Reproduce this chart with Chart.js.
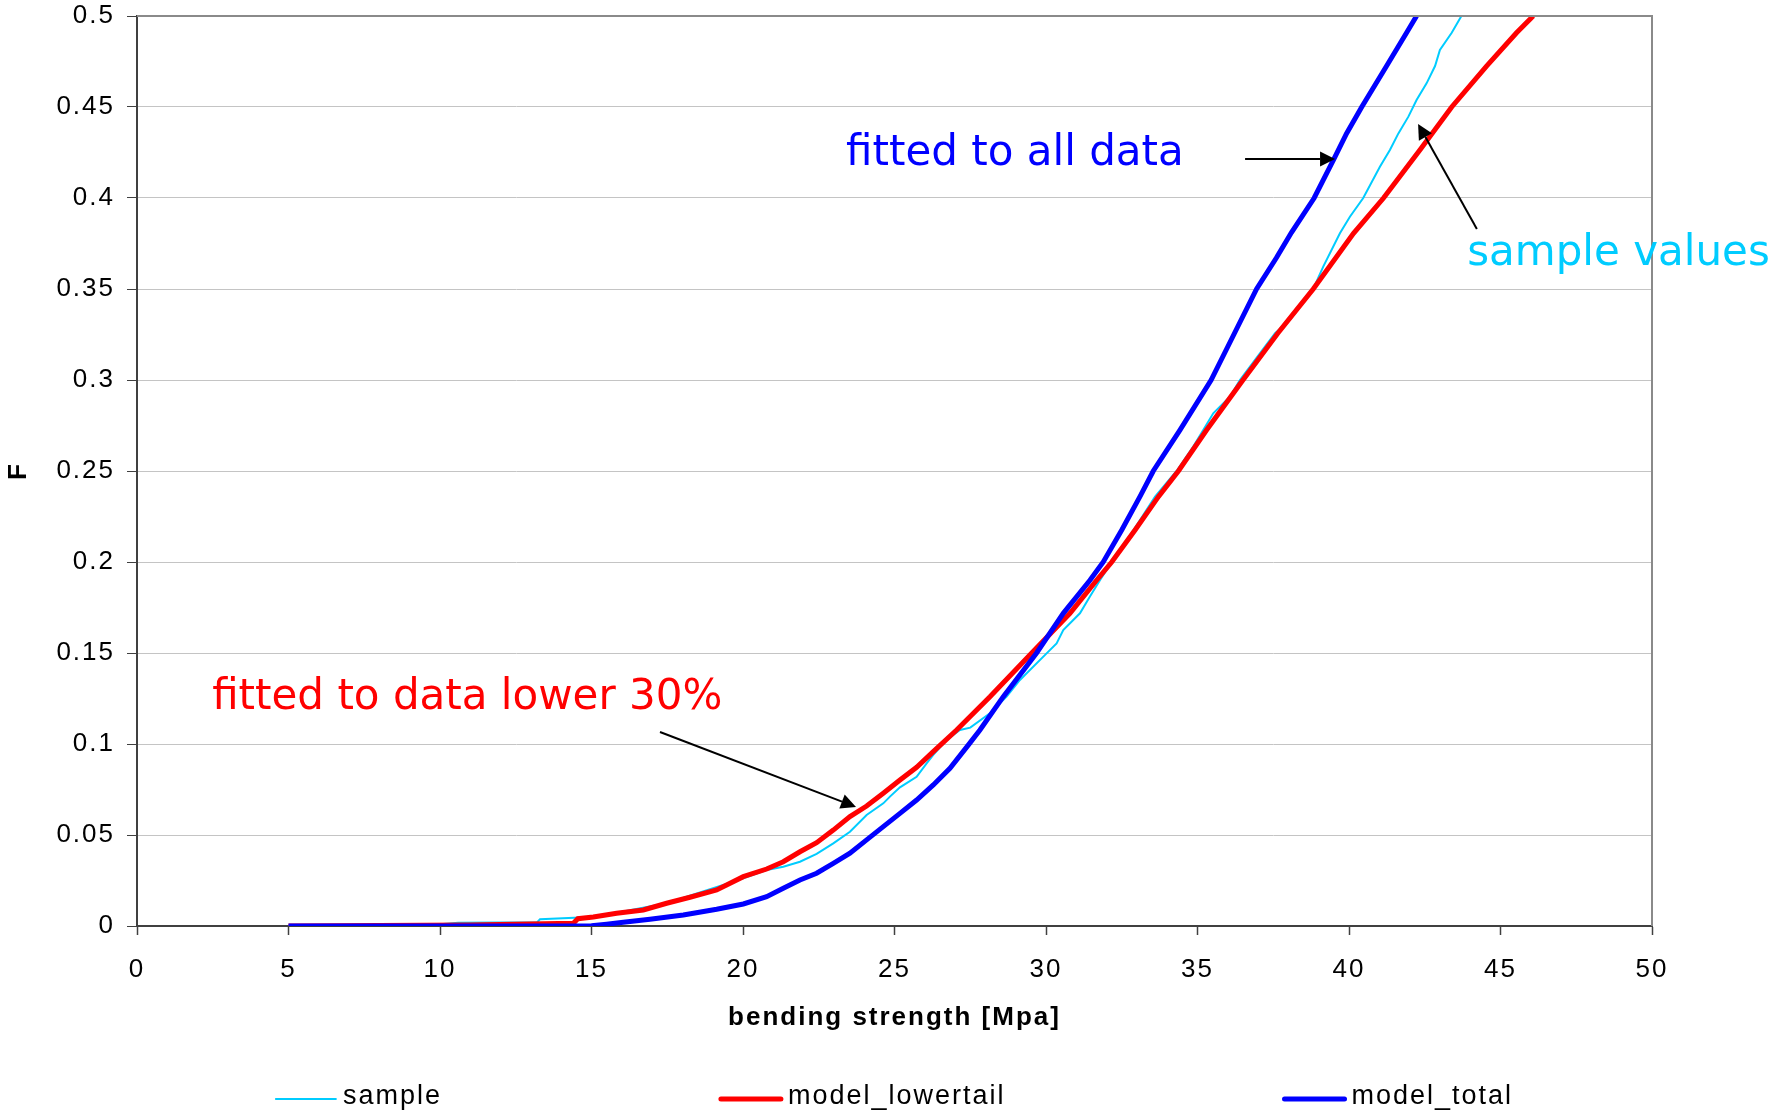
<!DOCTYPE html>
<html>
<head>
<meta charset="utf-8">
<script src="https://cdn.jsdelivr.net/npm/chart.js@4.4.1/dist/chart.umd.min.js"></script>
<style>
  html, body { margin: 0; padding: 0; background: #fff; }
</style>
</head>
<body>
<canvas id="myChart" width="1773" height="1113"></canvas>
<script>
// data
const sampleX = [5, 7, 10, 10.6, 13.2, 13.3, 15, 16.05, 17.48, 18.5, 19.68, 20.78, 21.33, 21.88, 22.43, 22.98, 23.53, 24.08, 24.63, 24.85, 25.18, 25.73, 26.06, 26.28, 26.72, 27.16, 27.5, 28.15, 28.7, 29.14, 30.02, 30.35, 30.57, 31.12, 31.45, 31.78, 32.17, 32.39, 32.89, 33.6, 34.31, 34.86, 35.19, 35.52, 36.07, 36.4, 37.06, 37.56, 38.05, 38.82, 39.15, 39.7, 40.03, 40.47, 41.02, 41.35, 41.63, 41.96, 42.23, 42.56, 42.84, 43.0, 43.39, 43.71];
const sampleF = [0, 0.0005, 0.001, 0.0018, 0.002, 0.0037, 0.005, 0.008, 0.0125, 0.018, 0.0243, 0.0308, 0.0326, 0.0353, 0.0396, 0.0454, 0.0518, 0.061, 0.0674, 0.0711, 0.0762, 0.082, 0.0894, 0.094, 0.1022, 0.1077, 0.109, 0.1169, 0.126, 0.1352, 0.1498, 0.1553, 0.1626, 0.1718, 0.181, 0.19, 0.2, 0.2048, 0.2176, 0.2359, 0.25, 0.2634, 0.2725, 0.2817, 0.2908, 0.3, 0.3147, 0.3257, 0.333, 0.35, 0.3623, 0.3806, 0.3897, 0.4, 0.4172, 0.4264, 0.4355, 0.4447, 0.4538, 0.463, 0.4725, 0.4813, 0.4908, 0.5];

const lowerX = [5, 11, 14.4, 14.55, 15.06, 15.83, 16.71, 17.48, 18.25, 19.13, 20.01, 20.78, 21.33, 21.88, 22.43, 22.98, 23.53, 24.08, 24.63, 25.18, 25.73, 26.28, 27.05, 28.15, 29.53, 30.79, 31.67, 32.17, 32.94, 33.71, 34.37, 35.3, 36.5, 37.65, 38.82, 40.15, 41.14, 42.34, 43.39, 44.54, 45.53, 46.08];
const lowerF = [0, 0.0005, 0.0015, 0.004, 0.005, 0.007, 0.0088, 0.0125, 0.0158, 0.0198, 0.0271, 0.0313, 0.0353, 0.0408, 0.0458, 0.0527, 0.0601, 0.0659, 0.0729, 0.0802, 0.0872, 0.0958, 0.1077, 0.126, 0.15, 0.1718, 0.19, 0.2, 0.2176, 0.2359, 0.25, 0.2725, 0.3, 0.3257, 0.35, 0.3806, 0.4, 0.4264, 0.45, 0.4725, 0.4908, 0.5];

const totalX = [5, 15, 15.5, 16.05, 16.93, 18.03, 19.13, 20.01, 20.78, 21.33, 21.88, 22.43, 22.98, 23.53, 24.08, 24.63, 25.18, 25.73, 26.28, 26.83, 27.44, 27.82, 28.59, 29.69, 30.57, 31.45, 31.89, 32.5, 33.1, 33.54, 34.42, 35.45, 36.2, 36.95, 37.6, 38.1, 38.85, 39.5, 39.92, 40.42, 41.24, 41.9, 42.23];
const totalF = [0, 0.0002, 0.001, 0.002, 0.0037, 0.006, 0.0092, 0.0121, 0.0161, 0.0207, 0.0253, 0.029, 0.0344, 0.04, 0.0473, 0.0546, 0.0619, 0.0692, 0.0775, 0.0866, 0.0995, 0.1077, 0.126, 0.15, 0.1718, 0.19, 0.2, 0.2176, 0.2359, 0.25, 0.2725, 0.3, 0.325, 0.35, 0.367, 0.381, 0.4, 0.4214, 0.4355, 0.45, 0.4725, 0.4908, 0.5];

const xTicks = [0, 5, 10, 15, 20, 25, 30, 35, 40, 45, 50];
const yTicks = [0, 0.05, 0.1, 0.15, 0.2, 0.25, 0.3, 0.35, 0.4, 0.45, 0.5];
const yTickLabels = ['0', '0.05', '0.1', '0.15', '0.2', '0.25', '0.3', '0.35', '0.4', '0.45', '0.5'];

// texts and arrows on the plot (in data units)
const notes = [
  { text: 'fitted to all data', x: 23.4, y: 0.418, color: '#0000FF' },
  { text: 'sample values', x: 43.9, y: 0.363, color: '#00CCFF' },
  { text: 'fitted to data lower 30%', x: 2.48, y: 0.119, color: '#FF0000' }
];
const arrows = [
  { x0: 36.57, y0: 0.4214, x1: 39.54, y1: 0.4214 },
  { x0: 44.22, y0: 0.383, x1: 42.28, y1: 0.4407 },
  { x0: 17.26, y0: 0.1066, x1: 23.73, y1: 0.0654 }
];

const toPoints = (xs, ys) => xs.map((x, i) => ({ x: x, y: ys[i] }));

const tickFont = { family: 'Liberation Sans', size: 26 };
const titleFont = { family: 'Liberation Sans', size: 26, weight: 'bold' };

// frame, arrows, notes and legend
const extras = {
  id: 'extras',
  beforeDraw(chart) {
    chart.ctx.letterSpacing = '2px';
  },
  afterDraw(chart) {
    const ctx = chart.ctx;
    const xs = chart.scales.x, ys = chart.scales.y;
    const a = chart.chartArea;
    ctx.save();
    // top and right frame
    ctx.strokeStyle = '#8a8a8a';
    ctx.lineWidth = 2;
    ctx.beginPath();
    ctx.moveTo(a.left, a.top);
    ctx.lineTo(a.right, a.top);
    ctx.lineTo(a.right, a.bottom);
    ctx.stroke();

    // arrows
    ctx.strokeStyle = '#000';
    ctx.fillStyle = '#000';
    ctx.lineWidth = 2;
    arrows.forEach(function (ar) {
      const px0 = xs.getPixelForValue(ar.x0), py0 = ys.getPixelForValue(ar.y0);
      const px1 = xs.getPixelForValue(ar.x1), py1 = ys.getPixelForValue(ar.y1);
      const ang = Math.atan2(py1 - py0, px1 - px0);
      const len = 15, half = 7.5;
      const bx = px1 - len * Math.cos(ang), by = py1 - len * Math.sin(ang);
      ctx.beginPath();
      ctx.moveTo(px0, py0);
      ctx.lineTo(bx, by);
      ctx.stroke();
      ctx.beginPath();
      ctx.moveTo(px1, py1);
      ctx.lineTo(bx + half * Math.sin(ang), by - half * Math.cos(ang));
      ctx.lineTo(bx - half * Math.sin(ang), by + half * Math.cos(ang));
      ctx.closePath();
      ctx.fill();
    });

    // notes
    ctx.letterSpacing = '0px';
    ctx.font = '42px "DejaVu Sans"';
    ctx.textAlign = 'left';
    ctx.textBaseline = 'alphabetic';
    notes.forEach(function (n) {
      ctx.fillStyle = n.color;
      ctx.fillText(n.text, xs.getPixelForValue(n.x), ys.getPixelForValue(n.y));
    });

    // legend
    ctx.letterSpacing = '2px';
    ctx.font = '27px "Liberation Sans"';
    const lineLen = 60, textGap = 7, itemGap = 279;
    const items = chart.data.datasets.map(function (ds) {
      return { ds: ds, w: ctx.measureText(ds.label).width };
    });
    let total = 0;
    items.forEach(function (it, i) { total += lineLen + textGap + it.w + (i > 0 ? itemGap : 0); });
    let cx = (a.left + a.right) / 2 - total / 2;
    const ly = chart.height - 14;
    items.forEach(function (it) {
      ctx.strokeStyle = it.ds.borderColor;
      ctx.lineWidth = it.ds.borderWidth;
      ctx.lineCap = 'round';
      ctx.beginPath();
      ctx.moveTo(cx, ly);
      ctx.lineTo(cx + lineLen, ly);
      ctx.stroke();
      ctx.fillStyle = '#000';
      ctx.textBaseline = 'middle';
      ctx.fillText(it.ds.label, cx + lineLen + textGap, ly - 2);
      cx += lineLen + textGap + it.w + itemGap;
    });
    ctx.restore();
    ctx.letterSpacing = '0px';
  }
};

const chartLine = () => {
  const ctx = document.getElementById('myChart');
  new Chart(ctx, {
    type: 'scatter',
    data: {
      datasets: [
        { label: 'sample', data: toPoints(sampleX, sampleF), showLine: true, borderColor: '#00CCFF', borderWidth: 2, pointRadius: 0, order: 3 },
        { label: 'model_lowertail', data: toPoints(lowerX, lowerF), showLine: true, borderColor: '#FF0000', borderWidth: 5, pointRadius: 0, order: 2 },
        { label: 'model_total', data: toPoints(totalX, totalF), showLine: true, borderColor: '#0000FF', borderWidth: 5, pointRadius: 0, order: 1 }
      ]
    },
    options: {
      responsive: false,
      animation: false,
      devicePixelRatio: 1,
      layout: { padding: { left: 0, right: 121, top: 16, bottom: 60 } },
      plugins: {
        legend: { display: false },
        tooltip: { enabled: false }
      },
      scales: {
        x: {
          type: 'linear',
          min: 0,
          max: 50,
          afterBuildTicks: function (s) { s.ticks = xTicks.map(function (v) { return { value: v }; }); },
          afterFit: function (s) { s.height = 127; s.paddingLeft = 0; s.paddingRight = 0; },
          grid: { drawOnChartArea: false, drawTicks: true, tickLength: 9, tickColor: '#404040', tickWidth: 1.5 },
          border: { color: '#404040', width: 2 },
          ticks: { color: '#000', font: tickFont, padding: 19, maxRotation: 0, autoSkip: false },
          title: { display: true, text: 'bending strength [Mpa]', color: '#000', font: titleFont, padding: { top: 0, bottom: 20 } }
        },
        y: {
          type: 'linear',
          min: 0,
          max: 0.5,
          afterBuildTicks: function (s) { s.ticks = yTicks.map(function (v) { return { value: v }; }); },
          afterFit: function (s) { s.width = 137; s.paddingTop = 0; s.paddingBottom = 0; },
          grid: { color: '#c4c4c4', lineWidth: 1, drawTicks: true, tickLength: 10, tickColor: '#404040' },
          border: { color: '#404040', width: 2 },
          ticks: {
            color: '#000',
            font: tickFont,
            padding: 12,
            autoSkip: false,
            callback: function (v, i) { return yTickLabels[i]; }
          },
          title: { display: true, text: 'F', color: '#000', font: titleFont, padding: { top: 3, bottom: 0 } }
        }
      }
    },
    plugins: [extras]
  });
};

chartLine();
</script>
</body>
</html>
